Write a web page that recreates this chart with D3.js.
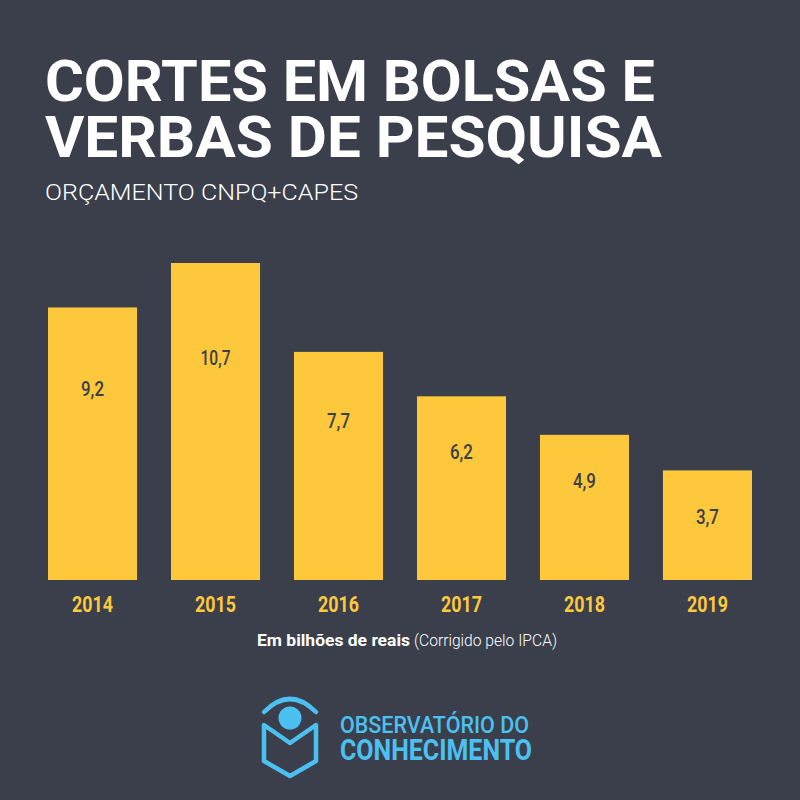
<!DOCTYPE html>
<html>
<head>
<meta charset="utf-8">
<script src="https://cdn.jsdelivr.net/npm/d3@7"></script>
<style>
html,body{margin:0;padding:0;background:#3a3f4b;}
svg{display:block;}
</style>
</head>
<body>
<svg id="chart" width="800" height="800"></svg>
<script>
// ---- data ----
const years = ["2014", "2015", "2016", "2017", "2018", "2019"];
const values = [9.2, 10.7, 7.7, 6.2, 4.9, 3.7];
const titleLines = ["CORTES EM BOLSAS E", "VERBAS DE PESQUISA"];
const subtitle = "ORÇAMENTO CNPQ+CAPES";
const noteBold = "Em bilhões de reais";
const noteLight = "(Corrigido pelo IPCA)";
const logoLines = ["OBSERVATÓRIO DO", "CONHECIMENTO"];

// ---- style ----
const BG = "#3a3f4b", YELLOW = "#fec83c", BLUE = "#4bc1f2", DARK = "#3a3f4a";
const svg = d3.select("#chart");
svg.append("rect").attr("width", 800).attr("height", 800).attr("fill", BG);

const ptBR = d3.formatLocale({decimal: ",", thousands: ".", grouping: [3], currency: ["R$", ""]});
const fmt = ptBR.format(".1f");

// ---- title (one text, two lines) ----
const titleFont = "Roboto, 'DejaVu Sans', sans-serif";
const tl = [{t: titleLines[0], y: 101, w: 610}, {t: titleLines[1], y: 157, w: 617}];
const title = svg.append("text")
  .attr("font-family", titleFont).attr("font-weight", 700).attr("font-size", 57)
  .attr("fill", "#ffffff");
title.selectAll("tspan").data(tl).join("tspan")
  .attr("x", 45).attr("y", d => d.y)
  .attr("textLength", d => d.w).attr("lengthAdjust", "spacingAndGlyphs")
  .text(d => d.t);

svg.append("text")
  .attr("x", 45).attr("y", 200)
  .attr("font-family", titleFont).attr("font-weight", 300).attr("font-size", 22)
  .attr("fill", "#ffffff")
  .attr("textLength", 313).attr("lengthAdjust", "spacingAndGlyphs")
  .text(subtitle);

// ---- scales ----
const x = d3.scaleBand().domain(years).range([48, 752]).paddingInner(0.276).paddingOuter(0);
const y = d3.scaleLinear().domain([0, d3.max(values)]).range([580, 263]);

const data = years.map((yr, i) => ({year: yr, value: values[i]}));

svg.append("g").selectAll("rect").data(data).join("rect")
  .attr("x", d => x(d.year))
  .attr("y", d => y(d.value))
  .attr("width", x.bandwidth())
  .attr("height", d => y(0) - y(d.value))
  .attr("fill", YELLOW);

// value labels
svg.append("g").selectAll("text").data(data).join("text")
  .attr("x", d => x(d.year) + x.bandwidth() / 2)
  .attr("y", d => {
    const h = y(0) - y(d.value);
    return y(d.value) + Math.max(46, 0.3 * h);
  })
  .attr("dy", "0.36em")
  .attr("text-anchor", "middle")
  .attr("font-family", titleFont).attr("font-weight", 500).attr("font-size", 20)
  .attr("fill", DARK)
  .attr("textLength", d => fmt(d.value).length > 3 ? 30 : 23)
  .attr("lengthAdjust", "spacingAndGlyphs")
  .text(d => fmt(d.value));

// axis (year labels)
const xAxis = d3.axisBottom(x).tickSize(0).tickPadding(0);
const gx = svg.append("g").attr("transform", "translate(0,592)").call(xAxis);
gx.select(".domain").remove();
gx.selectAll("text")
  .attr("y", 20).attr("dy", 0)
  .attr("font-family", titleFont).attr("font-weight", 700).attr("font-size", 22)
  .attr("fill", YELLOW)
  .attr("textLength", 41).attr("lengthAdjust", "spacingAndGlyphs");

// ---- note ----
svg.append("text")
  .attr("x", 257).attr("y", 646)
  .attr("font-family", titleFont).attr("font-weight", 700).attr("font-size", 17)
  .attr("fill", "#ffffff")
  .attr("textLength", 153).attr("lengthAdjust", "spacingAndGlyphs")
  .text(noteBold);
svg.append("text")
  .attr("x", 414).attr("y", 646)
  .attr("font-family", titleFont).attr("font-weight", 300).attr("font-size", 17)
  .attr("fill", "#ffffff")
  .attr("textLength", 143).attr("lengthAdjust", "spacingAndGlyphs")
  .text(noteLight);

// ---- logo ----
const logo = svg.append("g");
logo.append("path")
  .attr("d", "M264,712 Q290,686 316,712")
  .attr("fill", "none").attr("stroke", BLUE).attr("stroke-width", 4.5).attr("stroke-linecap", "round");
logo.append("circle").attr("cx", 290).attr("cy", 718).attr("r", 11.5).attr("fill", BLUE);
logo.append("path")
  .attr("d", "M264,725 L290,743 L316,725 L316,761 L290,776 L264,761 Z")
  .attr("fill", "none").attr("stroke", BLUE).attr("stroke-width", 4.5).attr("stroke-linejoin", "round");

const logoText = svg.append("text").attr("font-family", titleFont).attr("fill", BLUE);
logoText.append("tspan")
  .attr("x", 340).attr("y", 733)
  .attr("font-weight", 500).attr("font-size", 24)
  .attr("textLength", 189).attr("lengthAdjust", "spacingAndGlyphs")
  .text(logoLines[0]);
logoText.append("tspan")
  .attr("x", 340).attr("y", 760)
  .attr("font-weight", 700).attr("font-size", 29)
  .attr("textLength", 192).attr("lengthAdjust", "spacingAndGlyphs")
  .text(logoLines[1]);
</script>
</body>
</html>
